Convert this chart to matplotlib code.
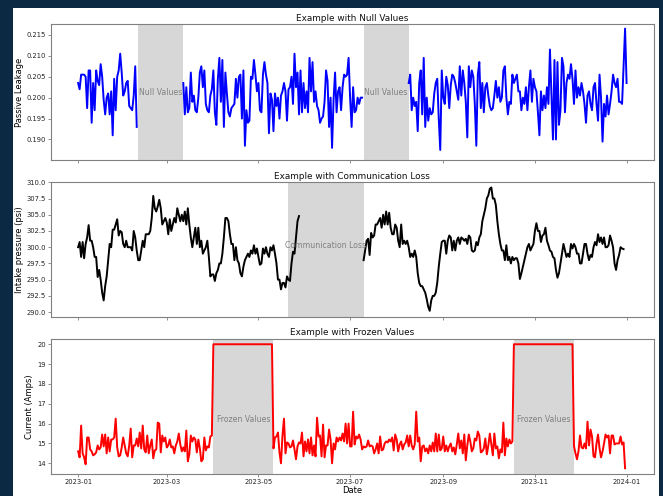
import numpy as np
import matplotlib
matplotlib.use("Agg")
import matplotlib.pyplot as plt
import matplotlib.dates as mdates
from matplotlib.patches import Rectangle

# --- data (daily samples, 2023) ---
start = np.datetime64("2023-01-01")

# passive leakage: three pieces, gaps are the null periods
leak_a = [0.2035, 0.2020, 0.2055, 0.2055, 0.2055, 0.2050, 0.1975, 0.2065, 0.2065, 0.1940,
          0.2035, 0.1970, 0.2065, 0.2040, 0.2030, 0.2080, 0.2050, 0.1995, 0.1960, 0.2000,
          0.2010, 0.1960, 0.2015, 0.1910, 0.2045, 0.1970, 0.2050, 0.2065, 0.2105, 0.2060,
          0.2005, 0.2015, 0.2035, 0.2040, 0.1980, 0.1975, 0.1970, 0.2005, 0.2075, 0.1930]
leak_b = [0.2035, 0.1960, 0.2025, 0.1965, 0.1975, 0.2060, 0.1990, 0.2005, 0.1970, 0.1965,
          0.2000, 0.2060, 0.2075, 0.2025, 0.2065, 0.1985, 0.1970, 0.1965, 0.2005, 0.2020,
          0.2065, 0.1965, 0.1935, 0.2045, 0.2095, 0.1990, 0.2090, 0.1930, 0.2060, 0.2010,
          0.1965, 0.1955, 0.1975, 0.1980, 0.1985, 0.2045, 0.2000, 0.2050, 0.2055, 0.1950,
          0.2065, 0.1885, 0.1970, 0.1940, 0.1945, 0.2050, 0.2045, 0.2090, 0.2055, 0.2015,
          0.2035, 0.1970, 0.1965, 0.2055, 0.2085, 0.2055, 0.2035, 0.1915, 0.2010, 0.1995,
          0.1920, 0.2010, 0.1980, 0.2000, 0.1950, 0.2005, 0.2015, 0.2035, 0.2015, 0.1945,
          0.2020, 0.2025, 0.2050, 0.1985, 0.2105, 0.2025, 0.2060, 0.1960, 0.2065, 0.1965,
          0.2035, 0.1975, 0.2015, 0.1965, 0.2095, 0.2015, 0.2085, 0.1990, 0.2015, 0.1980,
          0.1970, 0.1940, 0.1950, 0.1955, 0.1990, 0.2065, 0.2040, 0.1930, 0.2000, 0.1880,
          0.1995, 0.2060, 0.1965, 0.2015, 0.2025, 0.1970, 0.2025, 0.2055, 0.2050, 0.2055,
          0.2095, 0.2000, 0.1930, 0.2025, 0.1965, 0.1970, 0.2000, 0.1985, 0.2000, 0.2000]
leak_c = [0.2035, 0.2055, 0.1970, 0.2000, 0.1980, 0.1990, 0.1920, 0.2035, 0.2065, 0.1960,
          0.2095, 0.1930, 0.2000, 0.1945, 0.1975, 0.1960, 0.1965, 0.2010, 0.2035, 0.2045,
          0.1950, 0.1875, 0.2065, 0.2000, 0.1985, 0.2050, 0.2030, 0.1975, 0.2030, 0.2055,
          0.2050, 0.2035, 0.2015, 0.1995, 0.2075, 0.2005, 0.2065, 0.2035, 0.1990, 0.1905,
          0.2075, 0.2025, 0.2065, 0.2050, 0.1985, 0.1885, 0.2055, 0.2085, 0.1975, 0.2035,
          0.1965, 0.2025, 0.2035, 0.2005, 0.1980, 0.1970, 0.1975, 0.2005, 0.2040, 0.2000,
          0.2025, 0.1990, 0.2000, 0.2065, 0.2075, 0.2000, 0.1960, 0.1990, 0.1985, 0.2055,
          0.2035, 0.2045, 0.2055, 0.2015, 0.2015, 0.1970, 0.2000, 0.1985, 0.2025, 0.1970,
          0.2025, 0.2065, 0.1990, 0.2045, 0.2025, 0.2015, 0.1965, 0.1910, 0.2015, 0.1970,
          0.2005, 0.1975, 0.2025, 0.1985, 0.2115, 0.2010, 0.1900, 0.2090, 0.1900, 0.2085,
          0.1935, 0.1970, 0.2095, 0.2075, 0.1965, 0.2035, 0.2055, 0.2045, 0.2080, 0.2045,
          0.1985, 0.2065, 0.2000, 0.2025, 0.2005, 0.2035, 0.2015, 0.1985, 0.1940, 0.2005,
          0.2015, 0.1985, 0.1970, 0.2025, 0.2035, 0.1985, 0.1945, 0.2055, 0.2000, 0.1895,
          0.1985, 0.1955, 0.2005, 0.1960, 0.1985, 0.2015, 0.2055, 0.2035, 0.2025, 0.2045,
          0.1990, 0.1990, 0.1985, 0.2075, 0.2165, 0.2035]
leak_starts = [0, 70, 220]

# intake pressure: two pieces, gap is the communication loss
press_a = [300.0, 300.8, 298.5, 300.8, 298.3, 300.5, 301.5, 303.4, 301.0, 301.0,
           300.0, 298.5, 298.5, 295.4, 296.5, 295.0, 293.0, 291.8, 294.0, 295.5,
           298.0, 300.5, 300.0, 302.7, 302.7, 303.5, 304.3, 301.8, 302.5, 302.3,
           300.5, 300.0, 301.0, 300.0, 300.0, 300.0, 299.5, 302.5, 301.5, 299.5,
           298.0, 298.0, 299.5, 301.0, 300.0, 302.0, 302.0, 302.0, 302.5, 304.5,
           307.9, 306.0, 305.5, 306.3, 307.3, 306.0, 303.5, 304.0, 304.5, 303.8,
           302.0, 304.3, 302.5, 303.5, 304.5, 303.8, 306.0, 305.0, 304.0, 305.0,
           304.0, 305.5, 303.5, 306.0, 303.5, 301.5, 300.0, 301.5, 303.0, 300.5,
           303.0, 300.0, 301.0, 299.0, 299.5, 300.0, 301.0, 298.5, 295.5, 295.8,
           295.8, 294.8, 296.0, 296.5, 297.5, 297.5, 299.0, 301.5, 304.5, 304.5,
           304.0, 302.0, 300.5, 300.5, 298.0, 300.0, 298.0, 297.5, 296.0, 295.5,
           297.0, 298.0, 298.5, 299.0, 298.5, 299.5, 299.0, 300.3, 299.0, 299.8,
           298.5, 297.3, 297.5, 299.8, 299.0, 300.0, 299.0, 298.5, 300.0, 299.5,
           300.3, 299.0, 297.5, 295.0, 295.0, 293.5, 294.5, 294.5, 293.8, 295.5,
           295.0, 294.8, 297.5, 299.3, 299.0, 301.5, 304.0, 304.8]
press_b = [298.0, 299.5, 301.0, 301.3, 298.8, 302.2, 301.5, 301.8, 303.5, 303.5,
           304.0, 304.5, 303.0, 305.0, 303.5, 305.5, 303.5, 305.3, 303.0, 302.0,
           302.0, 303.5, 303.0, 301.0, 300.0, 303.5, 300.5, 301.0, 300.5, 301.0,
           300.0, 298.5, 299.0, 298.5, 299.5, 298.5, 296.0, 294.5, 294.0, 294.0,
           293.5, 293.0, 292.0, 290.8, 290.2, 291.8, 292.5, 292.5, 293.0, 294.5,
           297.0, 299.0, 300.8, 301.0, 301.0, 299.0, 301.0, 301.8, 301.5, 299.5,
           301.0, 299.5, 301.0, 301.5, 300.5, 301.5, 301.3, 301.0, 301.3, 300.5,
           301.8, 301.5, 299.5, 299.3, 299.5, 300.8, 300.3, 301.5, 302.0, 304.0,
           305.0, 306.0, 307.5, 308.0, 309.0, 309.2, 307.5, 307.5, 306.5, 304.0,
           302.0, 300.5, 299.5, 299.5, 298.0, 300.3, 298.0, 298.5, 297.5, 298.5,
           298.0, 298.3, 298.3, 297.5, 295.1, 296.0, 297.0, 298.0, 299.0, 300.0,
           300.5, 299.5, 300.0, 300.5, 302.5, 303.7, 302.5, 302.5, 300.8, 301.8,
           302.0, 303.0, 301.0, 300.3, 299.5, 299.3, 298.5, 298.3, 296.5, 295.3,
           296.0, 297.5, 299.0, 300.5, 299.5, 298.5, 299.0, 298.5, 300.5, 299.8,
           300.5, 300.0, 299.0, 299.0, 297.5, 297.5, 299.0, 300.5, 300.5, 299.0,
           298.0, 298.8, 298.5, 300.0, 300.8, 300.3, 302.0, 300.8, 301.5, 300.5,
           301.5, 300.0, 300.0, 300.3, 301.8, 301.0, 300.0, 297.5, 296.5, 298.0,
           298.8, 300.0, 299.8, 299.7]
press_starts = [0, 190]

# motor current: live pieces with two frozen stretches in between
curr_a = [14.6, 14.3, 15.9, 14.5, 14.3, 13.95, 15.3, 15.3, 14.7, 14.6,
          14.4, 14.45, 14.55, 14.9, 14.7, 14.8, 15.45, 14.85, 15.45, 14.5,
          15.3, 14.6, 15.2, 15.2, 15.3, 16.25, 14.8, 14.35, 14.4, 14.8,
          15.3, 14.9, 14.5, 14.35, 14.9, 15.75, 14.3, 14.9, 14.9, 15.25,
          14.85, 15.55, 14.75, 15.9, 14.7, 14.55, 15.4, 14.5, 14.9, 15.2,
          14.25, 14.65, 14.7, 16.05, 16.0, 14.55, 15.4, 15.1, 15.3, 14.8,
          14.9, 15.2, 14.8, 14.85, 14.5, 14.9, 15.1, 15.5, 14.95, 14.6,
          14.8, 14.6, 15.65, 14.1, 14.45, 15.4, 15.1, 15.3, 15.2, 14.55,
          15.2, 14.75, 14.1, 14.2, 15.3, 14.65, 14.85, 14.8, 15.35, 15.4]
curr_b = [14.75, 15.3, 15.35, 15.55, 14.55, 14.0, 15.4, 16.25, 14.5, 15.05,
          15.0, 14.8, 14.85, 15.15, 14.7, 14.2, 14.85, 15.05, 15.0, 15.55,
          14.35, 15.1, 14.6, 15.2, 14.5, 15.3, 14.4, 14.9, 14.35, 16.3,
          15.35, 15.4, 14.35, 15.95, 14.3, 14.9, 14.9, 15.7, 15.2, 14.0,
          15.0, 14.7, 15.3, 15.1, 15.3, 15.15, 15.5, 15.1, 16.0, 15.0,
          16.0, 14.85, 14.85, 16.6, 14.95, 15.35, 15.25, 15.45, 15.2, 14.7,
          14.85, 14.8, 14.85, 15.15, 14.85, 14.9, 14.85, 14.5, 14.7, 15.0,
          14.5, 15.35, 14.65, 14.7, 15.0, 15.1, 15.05, 15.2, 15.1, 15.3,
          14.65, 15.45, 15.2, 14.6, 14.95, 15.1, 14.7, 14.95, 15.05, 15.4,
          14.85, 15.4, 14.9, 14.7, 14.95, 16.6, 15.1, 15.3, 14.1, 14.85,
          14.9, 14.6, 14.75, 14.5, 14.9, 14.6, 15.05, 14.6, 15.5, 14.6,
          15.45, 14.65, 14.75, 15.35, 14.6, 14.9, 14.6, 14.85, 15.0, 14.6,
          14.8, 14.45, 14.95, 15.5, 14.75, 15.15, 14.5, 15.45, 14.15, 14.9,
          15.45, 15.1, 14.6, 14.75, 15.25, 15.15, 15.6, 15.4, 14.55, 14.6,
          14.75, 15.25, 14.45, 14.9, 15.5, 14.95, 14.4, 15.5, 14.75, 14.85,
          14.25, 14.7, 14.55, 16.05, 14.4, 15.25, 14.85, 15.2, 15.0, 15.1]
curr_c = [14.87, 14.5, 14.2, 14.6, 15.4, 14.8, 14.75, 15.0, 14.75, 16.1,
          14.9, 15.7, 15.35, 14.35, 14.3, 15.0, 15.45, 14.75, 14.3, 14.6,
          15.0, 15.45, 15.3, 15.4, 14.5, 15.4, 15.4, 14.95, 15.0, 15.0,
          15.0, 15.35, 14.95, 15.05, 13.75]
frozen_value = 20.0
frozen_days = 40

# shaded periods (day-of-year start, end)
null_spans = [(40, 70), (190, 220)]
comm_spans = [(140, 190)]
frozen_spans = [(90, 130), (290, 330)]


def day_range(first, n):
    return start + np.arange(first, first + n).astype("timedelta64[D]")


def to_date(d):
    return start + np.timedelta64(int(d), "D")


curr_all = (curr_a + [frozen_value] * frozen_days + curr_b
            + [frozen_value] * frozen_days + curr_c)

# figure is a screenshot-like panel: dark frame, white sheet
fig = plt.figure(figsize=(6.63, 4.96), dpi=100)
fig.patch.set_facecolor("#0b2942")
fig.add_artist(Rectangle((13 / 663, 0), (659 - 13) / 663, 1 - 8 / 496,
                         transform=fig.transFigure, facecolor="white",
                         edgecolor="none", zorder=0))

left, width = 50.7 / 663, (654 - 50.7) / 663
ax1 = fig.add_axes([left, 1 - 160 / 496, width, 136 / 496])
ax2 = fig.add_axes([left, 1 - 317.3 / 496, width, 135 / 496], sharex=ax1)
ax3 = fig.add_axes([left, 1 - 474 / 496, width, 135.3 / 496], sharex=ax1)

fs_tick, fs_title, fs_label = 4.9, 6.4, 6.0
span_kw = dict(color="lightgray", alpha=0.9, lw=0)
txt_kw = dict(color="gray", fontsize=5.6, ha="center", va="center")

for seg, s in zip([leak_a, leak_b, leak_c], leak_starts):
    ax1.plot(day_range(s, len(seg)), seg, color="blue", lw=1.4)
for a, b in null_spans:
    ax1.axvspan(to_date(a), to_date(b), **span_kw)
    ax1.text(to_date((a + b) / 2), 0.2013, "Null Values", **txt_kw)
ax1.set_ylim(0.1851, 0.2176)
ax1.set_yticks([0.190, 0.195, 0.200, 0.205, 0.210, 0.215])
ax1.set_ylabel("Passive Leakage", fontsize=fs_label, labelpad=2)
ax1.set_title("Example with Null Values", fontsize=fs_title, pad=2.5)

for seg, s in zip([press_a, press_b], press_starts):
    ax2.plot(day_range(s, len(seg)), seg, color="black", lw=1.4)
for a, b in comm_spans:
    ax2.axvspan(to_date(a), to_date(b), **span_kw)
    ax2.text(to_date((a + b) / 2), 300.2, "Communication Loss", **txt_kw)
ax2.set_ylim(289.2, 309.8)
ax2.set_yticks(np.arange(290, 310.1, 2.5))
ax2.set_ylabel("Intake pressure (psi)", fontsize=fs_label, labelpad=2)
ax2.set_title("Example with Communication Loss", fontsize=fs_title, pad=2.5)

ax3.plot(day_range(0, len(curr_all)), curr_all, color="red", lw=1.4)
for a, b in frozen_spans:
    ax3.axvspan(to_date(a), to_date(b), **span_kw)
    ax3.text(to_date((a + b) / 2), 16.2, "Frozen Values", **txt_kw)
ax3.set_ylim(13.46, 20.28)
ax3.set_yticks(range(14, 21))
ax3.set_ylabel("Current (Amps)", fontsize=fs_label, labelpad=2)
ax3.set_xlabel("Date", fontsize=fs_label, labelpad=1)
ax3.set_title("Example with Frozen Values", fontsize=fs_title, pad=2.5)

ax3.xaxis.set_major_locator(mdates.MonthLocator(bymonth=[1, 3, 5, 7, 9, 11]))
ax3.xaxis.set_major_formatter(mdates.DateFormatter("%Y-%m"))

for ax in (ax1, ax2, ax3):
    for sp in ax.spines.values():
        sp.set_color("#808080")
        sp.set_linewidth(0.8)
    ax.tick_params(labelsize=fs_tick, length=2, width=0.6, color="#808080",
                   labelcolor="#222222", pad=1.5)
    ax.title.set_color("#111111")
for ax in (ax1, ax2):
    ax.tick_params(labelbottom=False)

fig.savefig("out.png", dpi=100, facecolor=fig.get_facecolor())
